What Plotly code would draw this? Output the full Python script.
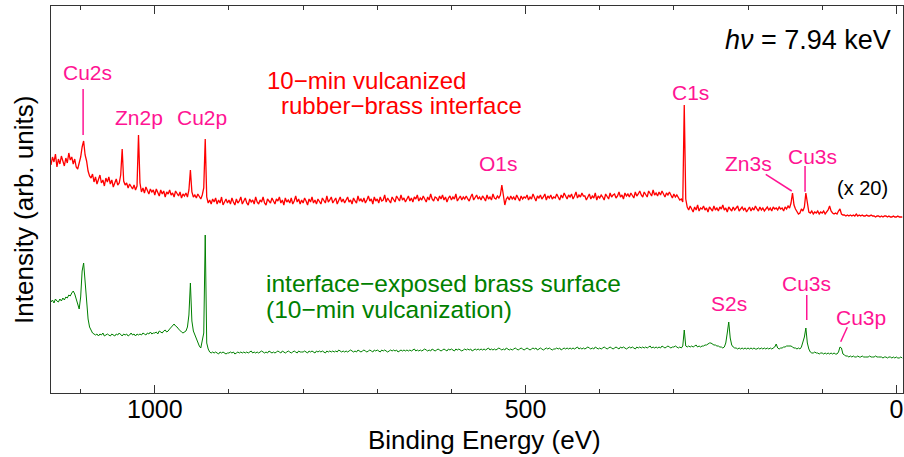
import plotly.graph_objects as go

# Binding energy grid (eV), 2 eV steps from 1140 down to -8
ENERGY = list(range(1140, -9, -2))

# 10-min vulcanized rubber-brass interface (x20), arb. units
RED = [
    228, 236, 231, 239, 226, 234, 229, 237, 232, 227,
    235, 230, 240, 233, 236, 229, 234, 226, 224, 230,
    236, 246, 252, 238, 232, 222, 217, 215, 219, 211,
    216, 209, 214, 218, 210, 213, 207, 215, 211, 216,
    209, 213, 206, 211, 214, 208, 210, 218, 244, 212,
    208, 210, 205, 209, 206, 204, 208, 203, 207, 258,
    210, 201, 205, 200, 206, 202, 199, 204, 201, 203,
    198, 204, 200, 197, 203, 199, 202, 196, 201, 199,
    203, 198, 200, 196, 202, 199, 197, 201, 195, 199,
    197, 200, 196, 203, 223, 201, 196, 198, 195, 199,
    196, 194, 198, 205, 254, 196, 190, 193, 189, 194,
    191, 195, 189, 193, 190, 196, 188, 192, 194, 190,
    193, 189, 195, 191, 188, 194, 190, 192, 196, 189,
    192, 195, 190, 188, 194, 191, 193, 189, 196, 191,
    189, 193, 191, 196, 190, 188, 194, 192, 190, 195,
    191, 189, 194, 192, 196, 190, 193, 188, 195, 191,
    193, 190, 195, 189, 192, 197, 191, 194, 189, 193,
    190, 195, 192, 188, 194, 191, 196, 190, 193, 189,
    194, 191, 189, 195, 192, 190, 197, 191, 193, 196,
    190, 193, 195, 189, 192, 196, 191, 194, 190, 193,
    196, 191, 193, 189, 195, 192, 190, 197, 192, 194,
    191, 195, 190, 193, 197, 192, 194, 189, 196, 192,
    194, 190, 196, 192, 193, 198, 191, 195, 193, 190,
    196, 193, 191, 197, 194, 192, 198, 193, 195, 191,
    194, 197, 192, 195, 191, 196, 194, 198, 192, 195,
    193, 197, 194, 191, 196, 193, 199, 194, 192, 196,
    195, 192, 197, 194, 198, 193, 196, 191, 195, 197,
    193, 196, 194, 199, 192, 195, 197, 193, 196, 194,
    197, 194, 192, 196, 199, 193, 195, 198, 194, 196,
    193, 197, 195, 192, 198, 194, 196, 193, 199, 195,
    194, 197, 195, 198, 208, 200, 188, 194, 196, 193,
    197, 194, 196, 193, 198, 195, 192, 197, 194, 196,
    195, 198, 193, 196, 194, 199, 195, 192, 197, 195,
    198, 194, 196, 199, 193, 197, 195, 198, 194, 196,
    195, 199, 196, 193, 198, 195, 200, 196, 194, 198,
    196, 199, 194, 197, 201, 195, 198, 196, 200, 197,
    197, 193, 196, 199, 194, 197, 195, 200, 193, 197,
    195, 198, 196, 193, 199, 197, 194, 200, 196, 198,
    199, 195, 197, 201, 196, 198, 194, 200, 197, 199,
    196, 200, 198, 195, 201, 197, 199, 202, 198, 196,
    201, 198, 196, 202, 199, 197, 203, 198, 200, 197,
    201, 198, 202, 199, 196, 200, 198, 201, 197, 195,
    199, 196, 198, 195, 193, 194, 191, 288, 194, 186,
    183, 187, 184, 181, 186, 183, 188, 182, 185, 184,
    187, 183, 185, 181, 186, 184, 182, 187, 183, 185,
    182, 186, 184, 188, 183, 185, 181, 186, 184, 182,
    186, 183, 185, 187, 182, 184, 186, 183, 185, 181,
    184, 186, 182, 185, 183, 187, 184, 182, 186, 183,
    185, 182, 184, 186, 183, 185, 182, 186, 184, 185,
    183, 186, 184, 185, 182, 186, 184, 187, 185, 190,
    200, 188, 184, 181, 179, 180, 184, 182, 186, 200,
    188, 181, 180, 182, 179, 181, 180, 182, 179, 181,
    180, 182, 179, 181, 183, 187, 182, 180, 179, 180,
    179, 182, 184, 179, 178, 178, 177, 178, 177, 178,
    177, 178, 177, 179, 177, 178, 177, 178, 177, 177,
    178, 177, 177, 178, 177, 177, 176, 177, 177, 176,
    177, 176, 177, 177, 176, 177, 176, 176, 177, 176,
    176, 177, 176, 176, 176,
]

# interface-exposed brass surface, arb. units
GREEN = [
    91, 93, 90, 94, 92, 91, 94, 92, 95, 93,
    96, 95, 98, 97, 100, 102, 99, 94, 88, 84,
    96, 122, 130, 110, 88, 74, 66, 62, 60, 59,
    58, 59, 57, 59, 58, 60, 57, 58, 59, 58,
    57, 59, 58, 57, 59, 58, 60, 58, 57, 59,
    58, 59, 57, 58, 60, 58, 59, 57, 59, 58,
    59, 58, 60, 59, 58, 60, 59, 61, 59, 60,
    60, 61, 59, 62, 61, 60, 62, 63, 61, 62,
    64, 66, 68, 69, 67, 66, 64, 62, 61, 60,
    61, 62, 66, 78, 110, 72, 62, 58, 55, 51,
    47, 45, 52, 60, 158, 50, 44, 41, 40, 41,
    40, 41, 40, 39, 41, 40, 41, 40, 39, 40,
    40, 41, 40, 41, 39, 40, 41, 40, 41, 40,
    41, 40, 41, 40, 41, 42, 40, 41, 40, 41,
    40, 41, 42, 41, 40, 41, 40, 42, 41, 40,
    41, 40, 41, 42, 41, 40, 42, 41, 40, 41,
    42, 41, 40, 41, 42, 41, 40, 42, 41, 41,
    41, 42, 41, 40, 42, 41, 42, 41, 40, 42,
    41, 42, 41, 42, 41, 40, 42, 41, 42, 41,
    42, 41, 42, 41, 43, 42, 41, 42, 41, 42,
    41, 42, 43, 42, 41, 42, 41, 43, 42, 41,
    42, 43, 42, 41, 42, 43, 42, 41, 43, 42,
    43, 42, 41, 43, 42, 43, 42, 41, 42, 43,
    42, 43, 42, 43, 41, 42, 43, 42, 43, 42,
    43, 42, 43, 42, 43, 44, 42, 43, 42, 43,
    42, 43, 44, 43, 42, 43, 42, 44, 43, 42,
    43, 44, 43, 42, 43, 44, 43, 42, 44, 43,
    44, 43, 42, 44, 43, 44, 43, 42, 43, 44,
    43, 44, 43, 44, 42, 43, 44, 43, 44, 43,
    44, 43, 44, 43, 44, 45, 43, 44, 43, 44,
    43, 44, 45, 44, 43, 44, 43, 45, 44, 43,
    44, 43, 44, 45, 44, 43, 44, 45, 44, 43,
    44, 45, 44, 43, 44, 45, 44, 45, 43, 44,
    45, 44, 43, 44, 45, 44, 45, 44, 43, 44,
    44, 45, 44, 45, 43, 44, 45, 44, 45, 44,
    45, 44, 45, 44, 45, 46, 44, 45, 44, 45,
    44, 45, 46, 45, 44, 45, 44, 46, 45, 44,
    45, 44, 45, 46, 45, 44, 45, 46, 45, 44,
    45, 46, 45, 44, 46, 45, 46, 45, 44, 45,
    46, 45, 46, 45, 44, 46, 45, 46, 45, 46,
    45, 46, 45, 46, 47, 45, 46, 45, 46, 45,
    46, 45, 47, 46, 45, 46, 47, 46, 45, 46,
    46, 47, 46, 45, 46, 45, 47, 63, 47, 46,
    47, 46, 47, 46, 47, 48, 46, 47, 46, 47,
    47, 48, 48, 49, 50, 50, 49, 48, 48, 47,
    47, 46, 46, 45, 46, 50, 60, 71, 55, 48,
    46, 45, 45, 44, 45, 44, 45, 44, 45, 44,
    45, 44, 45, 44, 45, 44, 44, 45, 44, 45,
    44, 45, 44, 45, 44, 45, 44, 45, 46, 49,
    45, 44, 45, 45, 46, 46, 47, 47, 47, 47,
    46, 45, 45, 44, 45, 44, 46, 50, 56, 65,
    50, 44, 41, 40, 40, 41, 40, 40, 39, 40,
    40, 39, 40, 39, 40, 39, 40, 39, 40, 39,
    39, 41, 46, 45, 39, 38, 37, 37, 36, 37,
    36, 37, 36, 36, 37, 36, 36, 37, 36, 36,
    36, 36, 37, 36, 36, 36, 37, 36, 36, 36,
    36, 35, 36, 36, 35, 36, 36, 35, 36, 35,
    36, 35, 35, 36, 35,
]

RED_C = "#ff0000"
GREEN_C = "#008000"
PINK = "#ff1493"
FONT = "Liberation Sans"

fig = go.Figure()
fig.add_trace(go.Scatter(x=ENERGY, y=RED, mode="lines",
                         line=dict(color=RED_C, width=1.3), hoverinfo="skip"))
fig.add_trace(go.Scatter(x=ENERGY, y=GREEN, mode="lines",
                         line=dict(color=GREEN_C, width=1), hoverinfo="skip"))

ann = []
def lab(text, x, y, color=PINK, size=21, xanchor="center"):
    ann.append(dict(text=text, x=x, y=y, xref="x", yref="y", showarrow=False,
                    xanchor=xanchor, yanchor="middle",
                    font=dict(family=FONT, size=size, color=color)))

lab("Cu2s", 1091, 321)
lab("Zn2p", 1022, 276)
lab("Cu2p", 937, 276)
lab("O1s", 537, 230)
lab("C1s", 277, 301)
lab("Zn3s", 200, 230)
lab("Cu3s", 113, 237)
lab("(x 20)", 45, 205, color="black", size=20)
lab("10\u2212min vulcanized", 851, 313, color=RED_C, size=24, xanchor="left")
lab("rubber\u2212brass interface", 832, 288, color=RED_C, size=24, xanchor="left")
lab("interface\u2212exposed brass surface", 853, 110, color=GREEN_C, size=24.5, xanchor="left")
lab("(10\u2212min vulcanization)", 853, 84, color=GREEN_C, size=24.5, xanchor="left")
lab("S2s", 226, 90)
lab("Cu3s", 121.5, 110)
lab("Cu3p", 47, 76)
lab("<i>h\u03bd</i> = 7.94 keV", 4.6, 353, color="black", size=27, xanchor="right")

ann.append(dict(text="Intensity (arb. units)", x=-0.0317, y=0.473, xref="paper", yref="paper",
                showarrow=False, textangle=-90, xanchor="center", yanchor="middle",
                font=dict(family=FONT, size=26, color="black")))
ann.append(dict(text="Binding Energy (eV)", x=0.509, y=-0.1214, xref="paper", yref="paper",
                showarrow=False, xanchor="center", yanchor="middle",
                font=dict(family=FONT, size=26, color="black")))

shapes = []
def seg(x0, y0, x1, y1):
    shapes.append(dict(type="line", xref="x", yref="y", x0=x0, y0=y0, x1=x1, y1=y1,
                       line=dict(color=PINK, width=1.5)))

seg(1096.7, 304, 1096.7, 258)
seg(176.1, 218.7, 141.0, 202)
seg(123.1, 227, 123.1, 201.3)
seg(120.8, 98, 120.8, 73)
seg(66.1, 65.7, 75.0, 51.3)

fig.update_layout(
    width=904, height=457,
    margin=dict(l=51, r=1, t=6, b=64, autoexpand=False),
    plot_bgcolor="white", paper_bgcolor="white",
    showlegend=False,
    font=dict(family=FONT, color="black"),
    annotations=ann, shapes=shapes,
    xaxis=dict(range=[1140, -9], tick0=0, dtick=500, ticks="inside", ticklen=8,
               tickwidth=1.3, tickcolor="#333", showline=True, linecolor="#333",
               linewidth=1.3, mirror="ticks", showgrid=False, zeroline=False,
               automargin=False, ticklabelstandoff=-6,
               tickfont=dict(family=FONT, size=25, color="black"),
               minor=dict(dtick=100, tick0=0, ticks="inside", ticklen=4,
                          tickwidth=1.3, tickcolor="#333", showgrid=False)),
    yaxis=dict(range=[0, 387], showticklabels=False, ticks="", showline=True,
               linecolor="#333", linewidth=1.3, mirror=True, showgrid=False,
               zeroline=False, automargin=False),
)

fig.write_html("out.html", config={"displayModeBar": False},
               post_script="document.body.style.margin='0';document.body.style.padding='0';")
